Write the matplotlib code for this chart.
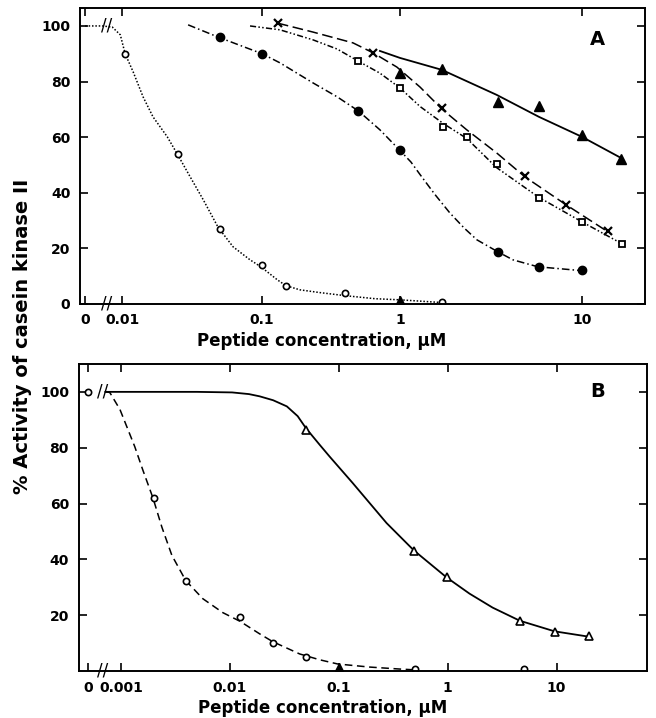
import numpy as np
import matplotlib
matplotlib.use("Agg")
import matplotlib.pyplot as plt
from matplotlib.ticker import FixedLocator, FixedFormatter, NullLocator

# ---------------- data ----------------
# Panel A
a_open_x = [0.0105, 0.025, 0.05, 0.1, 0.15, 0.4, 1.7]
a_open_y = [90, 54, 27, 14, 6.5, 4, 0.5]
a_open_cx = [0, 0.0072, 0.0085, 0.0097, 0.0105, 0.012, 0.0141, 0.0166, 0.021, 0.0247,
             0.0306, 0.038, 0.0485, 0.062, 0.082, 0.098, 0.129, 0.149, 0.188, 0.263,
             0.40, 0.66, 1.0, 1.72]
a_open_cy = [100, 100, 99.6, 96.8, 90, 83.4, 74.5, 67.3, 60.1, 54,
             45.7, 37.4, 27.5, 20.5, 15.8, 13.3, 8.6, 6.5, 5.0, 4.0,
             2.9, 1.8, 1.4, 0.4]
a_extra_tri_x = [1.0]
a_extra_tri_y = [1.5]

a_fcirc_x = [0.05, 0.1, 0.5, 1.0, 3.45, 5.8, 10]
a_fcirc_y = [96, 90, 69.5, 55.5, 18.7, 13.3, 12]
a_fcirc_cx = [0.0296, 0.0485, 0.1, 0.135, 0.234, 0.35, 0.5, 0.716, 1.0, 1.15, 1.29,
              1.55, 1.88, 2.25, 2.65, 3.45, 4.18, 5.73, 10]
a_fcirc_cy = [100.4, 96, 90, 86.7, 79.5, 74.5, 69.4, 62.6, 55.2, 51, 46.5,
              39.5, 32.7, 27.3, 23, 18.7, 15.8, 13.3, 11.9]

a_cross_x = [0.13, 0.64, 1.7, 4.86, 8.2, 13.9]
a_cross_y = [101, 90.3, 70.3, 45.8, 35.7, 26.1]
a_cross_cx = [0.13, 0.234, 0.457, 0.64, 0.95, 1.29, 1.7, 2.33, 3.4, 4.86, 8.2, 13.9]
a_cross_cy = [101, 97.8, 93.9, 90.3, 85.2, 78, 70.1, 62.6, 54.3, 45.7, 35.6, 25.9]

a_sq_x = [0.5, 1.0, 1.72, 2.33, 3.4, 5.8, 10, 16.6]
a_sq_y = [87.3, 77.7, 63.7, 60.1, 50.4, 38, 29.5, 21.6]
a_sq_cx = [0.082, 0.135, 0.234, 0.35, 0.5, 0.716, 1.0, 1.29, 1.72, 2.33, 3.4, 5.8, 10, 16.6]
a_sq_cy = [100, 98.6, 95, 91.7, 87.3, 83, 77.7, 71, 65, 59.5, 49, 38.3, 29.5, 21.6]

a_tri_x = [1.0, 1.7, 3.45, 5.8, 10, 16.4]
a_tri_y = [83, 84.5, 72.5, 71.2, 60.6, 52.2]
a_tri_cx = [0.716, 1.0, 1.7, 3.4, 5.8, 10, 16.4]
a_tri_cy = [91, 88.5, 84.2, 75.2, 67.3, 60.1, 52.5]

# Panel B
b_open_x = [0, 0.002, 0.004, 0.0125, 0.025, 0.05, 0.5, 5]
b_open_y = [100, 62, 32.4, 19.5, 10.1, 5.0, 0.7, 0.7]
b_open_cx = [0.00072, 0.00079, 0.00098, 0.00134, 0.00159, 0.00197, 0.00238, 0.00294,
             0.00394, 0.00565, 0.00863, 0.0124, 0.0188, 0.0248, 0.0438, 0.067,
             0.098, 0.192, 0.36, 0.5]
b_open_cy = [100, 99.8, 93.7, 80.4, 72, 62, 51.5, 41.4,
             32.4, 25.9, 20.9, 17.8, 13.3, 10.5, 6.1, 4.0,
             2.5, 1.4, 0.7, 0.4]
b_extra_tri_x = [0.1]
b_extra_tri_y = [1.5]

b_tri_x = [0.05, 0.49, 0.98, 4.6, 9.6, 19.7]
b_tri_y = [86.5, 42.9, 33.5, 18, 14, 12.5]
b_tri_cx = [0.00072, 0.005, 0.0105, 0.015, 0.0188, 0.025, 0.0334, 0.042, 0.05, 0.067,
            0.0826, 0.134, 0.275, 0.49, 0.98, 1.59, 2.59, 4.6, 9.6, 19.7]
b_tri_cy = [100, 100, 99.8, 99.2, 98.4, 97, 94.8, 91.3, 87, 81,
            76.8, 67.4, 53, 43.2, 33.5, 27.7, 22.7, 18, 14.2, 12.3]

a_xticks = [0, 0.01, 0.1, 1, 10]
a_xlabels = ["0", "0.01", "0.1", "1", "10"]
b_xticks = [0, 0.001, 0.01, 0.1, 1, 10]
b_xlabels = ["0", "0.001", "0.01", "0.1", "1", "10"]
a_yticks = [0, 20, 40, 60, 80, 100]
b_yticks = [20, 40, 60, 80, 100]

# ---------------- layout helpers ----------------
ZERO_A, BREAK_A = 0.00545, 0.0078     # where "0" sits left of the axis break
ZERO_B, BREAK_B = 0.0005, 0.00068

# panel A's printed decades are not equally wide
A_LOG = np.array([-4.0, -3.0, -2.0, -1.0, 0.0, 1.0, 2.0])
A_POS = np.array([-2.0, -1.0, 0.0, 1.0, 1.985, 3.285, 4.585])


def fwd_a(x):
    x = np.asarray(x, dtype=float)
    return np.interp(np.log10(np.clip(x, 1e-12, None)), A_LOG, A_POS)


def inv_a(p):
    return 10 ** np.interp(np.asarray(p, dtype=float), A_POS, A_LOG)


def zx(vals, zero):
    return [zero if v == 0 else v for v in vals]


plt.rcParams["font.family"] = ["DejaVu Sans"]
plt.rcParams["lines.solid_joinstyle"] = "round"
plt.rcParams["lines.dash_joinstyle"] = "round"
fig = plt.figure(figsize=(6.56, 7.18), dpi=100)
axA = fig.add_axes([0.122, 0.577, 0.861, 0.412])
axB = fig.add_axes([0.120, 0.0655, 0.867, 0.4276])

lw = 1.1
# ---- panel A ----
axA.set_xscale("function", functions=(fwd_a, inv_a))
axA.plot(zx(a_open_cx, ZERO_A), a_open_cy, color="k", lw=lw, ls=(0, (1, 1.2)))
axA.plot(a_open_x, a_open_y, "o", mfc="white", mec="k", ms=4.5, mew=1.2)
axA.plot(a_extra_tri_x, a_extra_tri_y, "^", color="k", ms=6)

axA.plot(a_fcirc_cx, a_fcirc_cy, color="k", lw=lw, ls=(0, (5, 2, 1, 2)))
axA.plot(a_fcirc_x, a_fcirc_y, "o", color="k", ms=6)

axA.plot(a_cross_cx, a_cross_cy, color="k", lw=lw, ls=(0, (7, 3)))
axA.plot(a_cross_x, a_cross_y, "x", color="k", ms=6, mew=1.6)

axA.plot(a_sq_cx, a_sq_cy, color="k", lw=lw, ls=(0, (4, 1.5, 1, 1.5, 1, 1.5)))
axA.plot(a_sq_x, a_sq_y, "s", mfc="white", mec="k", ms=5, mew=1.3)

axA.plot(a_tri_cx, a_tri_cy, color="k", lw=1.3)
axA.plot(a_tri_x, a_tri_y, "^", color="k", ms=6.5)

axA.set_xlim(0.005, 22.2)
axA.set_ylim(0, 106.5)
axA.xaxis.set_major_locator(FixedLocator(zx(a_xticks, ZERO_A)))
axA.xaxis.set_major_formatter(FixedFormatter(a_xlabels))
axA.xaxis.set_minor_locator(NullLocator())
axA.set_yticks(a_yticks)
axA.text(0.917, 0.892, "A", transform=axA.transAxes, fontsize=14,
         fontweight="bold", ha="center", va="center")
axA.text(BREAK_A, 100, "//", fontsize=12, ha="center", va="center")
axA.text(BREAK_A, 0, "//", fontsize=12, ha="center", va="center",
         transform=axA.get_xaxis_transform(), clip_on=False)

# ---- panel B ----
axB.set_xscale("log")
axB.plot(b_tri_cx, b_tri_cy, color="k", lw=1.3)
axB.plot(b_tri_x, b_tri_y, "^", mfc="white", mec="k", ms=6, mew=1.2)
axB.plot(b_open_cx, b_open_cy, color="k", lw=lw, ls=(0, (5, 3)))
axB.plot(zx(b_open_x, ZERO_B), b_open_y, "o", mfc="white", mec="k", ms=4.5, mew=1.2)
axB.plot(b_extra_tri_x, b_extra_tri_y, "^", color="k", ms=6)

axB.set_xlim(0.00041, 68.4)
axB.set_ylim(0, 110)
axB.xaxis.set_major_locator(FixedLocator(zx(b_xticks, ZERO_B)))
axB.xaxis.set_major_formatter(FixedFormatter(b_xlabels))
axB.xaxis.set_minor_locator(NullLocator())
axB.set_yticks(b_yticks)
axB.text(0.912, 0.909, "B", transform=axB.transAxes, fontsize=14,
         fontweight="bold", ha="center", va="center")
axB.text(BREAK_B, 100, "//", fontsize=12, ha="center", va="center")
axB.text(BREAK_B, 0, "//", fontsize=12, ha="center", va="center",
         transform=axB.get_xaxis_transform(), clip_on=False)

for ax in (axA, axB):
    for s in ax.spines.values():
        s.set_linewidth(1.4)
    ax.tick_params(direction="in", length=6, width=1.2, top=True, right=True,
                   labelsize=10, pad=7)
    for lab in ax.get_xticklabels() + ax.get_yticklabels():
        lab.set_fontweight("bold")
    ax.set_xlabel("Peptide concentration, \u03bcM", fontsize=12,
                  fontweight="bold", x=0.428, labelpad=3)

fig.text(0.034, 0.531, "% Activity of casein kinase II", rotation=90,
         ha="center", va="center", fontsize=14, fontweight="bold")

fig.savefig("out.png", dpi=100)
